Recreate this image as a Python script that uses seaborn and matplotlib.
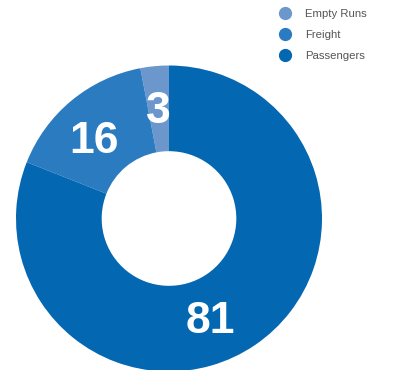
import numpy as np
import matplotlib
matplotlib.use("Agg")
import matplotlib.pyplot as plt
from matplotlib.lines import Line2D
import seaborn as sns

# Share of train runs by type (%)
categories = ["Empty Runs", "Freight", "Passengers"]
shares = [3, 16, 81]
colors = ["#6b97cd", "#2b7bc0", "#0467b2"]

sns.set_theme(style="white")
plt.rcParams["font.family"] = ["Liberation Sans", "DejaVu Sans"]

W, H = 393, 370
fig = plt.figure(figsize=(W / 100, H / 100), dpi=100)
ax = fig.add_axes([0, 0, 1, 1])

cx, cy, R = 169, H - 218.5, 153
ring = 0.56

wedges, _ = ax.pie(
    shares,
    colors=sns.color_palette(colors),
    startangle=90,
    counterclock=True,
    center=(cx, cy),
    radius=R,
    wedgeprops=dict(width=R * ring, linewidth=0),
    frame=True,
)
ax.set_xlim(0, W)
ax.set_ylim(0, H)
ax.set_aspect("equal")
ax.set_axis_off()

# value labels inside the ring (polar placement around the centre)
label_angles = [95.6, 132.8, 292.8]
label_radii = [112, 111, 107]
cap_half = 16  # half the digit height, in pixels
for v, a, r in zip(shares, label_angles, label_radii):
    ang = np.deg2rad(a)
    ax.text(cx + r * np.cos(ang), cy + r * np.sin(ang) - cap_half, str(v),
            color="white", fontsize=32, fontweight="bold",
            ha="center", va="baseline")

handles = [Line2D([], [], marker="o", linestyle="", markersize=8.5,
                  markerfacecolor=c, markeredgecolor=c) for c in colors]
leg = ax.legend(handles, categories, loc="upper left",
                bbox_to_anchor=(274 / W, 1 - 4 / H), frameon=False,
                fontsize=8.2, handletextpad=1.1, labelspacing=1.0,
                handlelength=1.2, borderaxespad=0)
for t in leg.get_texts():
    t.set_color("#555555")

fig.savefig("out.png", dpi=100)
